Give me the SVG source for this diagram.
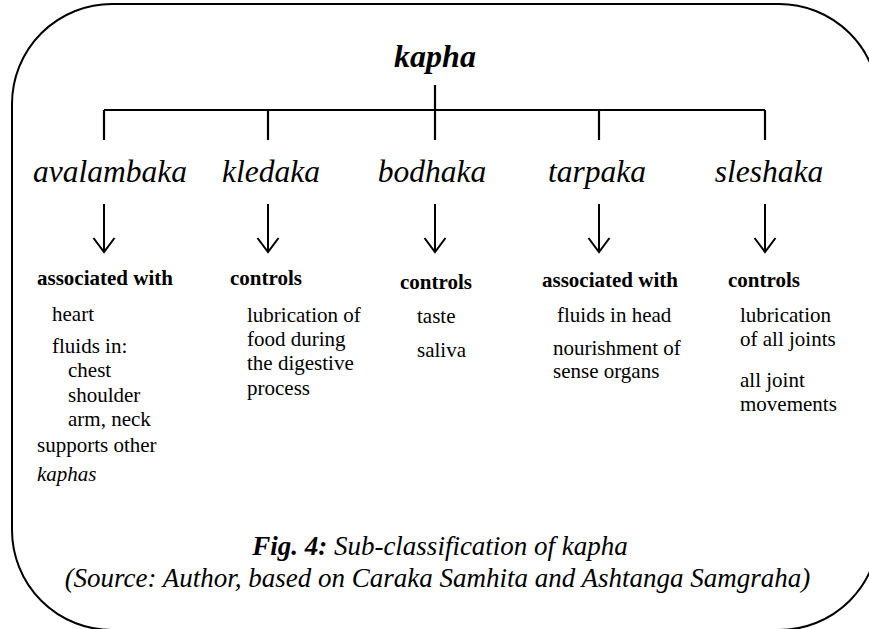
<svg xmlns="http://www.w3.org/2000/svg" width="869" height="629" viewBox="0 0 869 629" font-family="'Liberation Serif', 'Times New Roman', Tinos, 'DejaVu Serif', serif">
  <style>
    .frame { fill: none; stroke: #000; stroke-width: 2; }
    .line { fill: none; stroke: #000; stroke-width: 2.2; stroke-linecap: butt; }
    .arrow { fill: none; stroke: #000; stroke-width: 2; }
    text { font-family: 'Liberation Serif', 'Times New Roman', Tinos, 'DejaVu Serif', serif; fill: #000; }
    .root { font-size: 32px; font-weight: bold; font-style: italic; }
    .sub { font-size: 31.5px; font-style: italic; }
    .head { font-size: 21px; font-weight: bold; }
    .body { font-size: 21px; }
    .cap { font-size: 27px; font-style: italic; }
  </style>
  <defs>
    <g id="down-arrow">
      <path class="arrow" d="M0 0 V48 M-10.5 34 L0 48 L10.5 34"/>
    </g>
  </defs>

  <!-- outer rounded frame -->
  <rect class="frame" x="12" y="4" width="867" height="626" rx="100" ry="100"/>

  <!-- tree connectors -->
  <g id="connectors">
    <path class="line" d="M435 85 V110 M104 110 H765 M104 110 V140 M268 110 V140 M435 110 V140 M599 110 V140 M765 110 V140"/>
    <use href="#down-arrow" x="104" y="204"/>
    <use href="#down-arrow" x="268" y="204"/>
    <use href="#down-arrow" x="435" y="204"/>
    <use href="#down-arrow" x="599" y="204"/>
    <use href="#down-arrow" x="765" y="204"/>
  </g>

  <g id="kapha">
    <text class="root" x="435" y="67" text-anchor="middle">kapha</text>
  </g>

  <g id="avalambaka">
    <text class="sub" x="110" y="182" text-anchor="middle">avalambaka</text>
    <text class="head" x="37" y="285">associated with</text>
    <text class="body" x="52" y="321">heart</text>
    <text class="body" x="52" y="353">fluids in:</text>
    <text class="body" x="68" y="377">chest</text>
    <text class="body" x="68" y="402">shoulder</text>
    <text class="body" x="68" y="426">arm, neck</text>
    <text class="body" x="37" y="452">supports other</text>
    <text class="body" x="37" y="481" font-style="italic">kaphas</text>
  </g>

  <g id="kledaka">
    <text class="sub" x="271" y="182" text-anchor="middle">kledaka</text>
    <text class="head" x="230" y="285">controls</text>
    <text class="body" x="247" y="322">lubrication of</text>
    <text class="body" x="247" y="346">food during</text>
    <text class="body" x="247" y="370">the digestive</text>
    <text class="body" x="247" y="395">process</text>
  </g>

  <g id="bodhaka">
    <text class="sub" x="432" y="182" text-anchor="middle">bodhaka</text>
    <text class="head" x="400" y="289">controls</text>
    <text class="body" x="417" y="323">taste</text>
    <text class="body" x="417" y="357">saliva</text>
  </g>

  <g id="tarpaka">
    <text class="sub" x="597" y="182" text-anchor="middle">tarpaka</text>
    <text class="head" x="542" y="287">associated with</text>
    <text class="body" x="557" y="322">fluids in head</text>
    <text class="body" x="553" y="355">nourishment of</text>
    <text class="body" x="553" y="378">sense organs</text>
  </g>

  <g id="sleshaka">
    <text class="sub" x="769" y="182" text-anchor="middle">sleshaka</text>
    <text class="head" x="728" y="287">controls</text>
    <text class="body" x="740" y="322">lubrication</text>
    <text class="body" x="740" y="346">of all joints</text>
    <text class="body" x="740" y="387">all joint</text>
    <text class="body" x="740" y="411">movements</text>
  </g>

  <g id="caption">
    <text class="cap" x="440" y="555" text-anchor="middle"><tspan font-weight="bold">Fig. 4:</tspan> Sub-classification of kapha</text>
    <text class="cap" x="437.5" y="587" text-anchor="middle">(Source: Author, based on Caraka Samhita and Ashtanga Samgraha)</text>
  </g>
</svg>
